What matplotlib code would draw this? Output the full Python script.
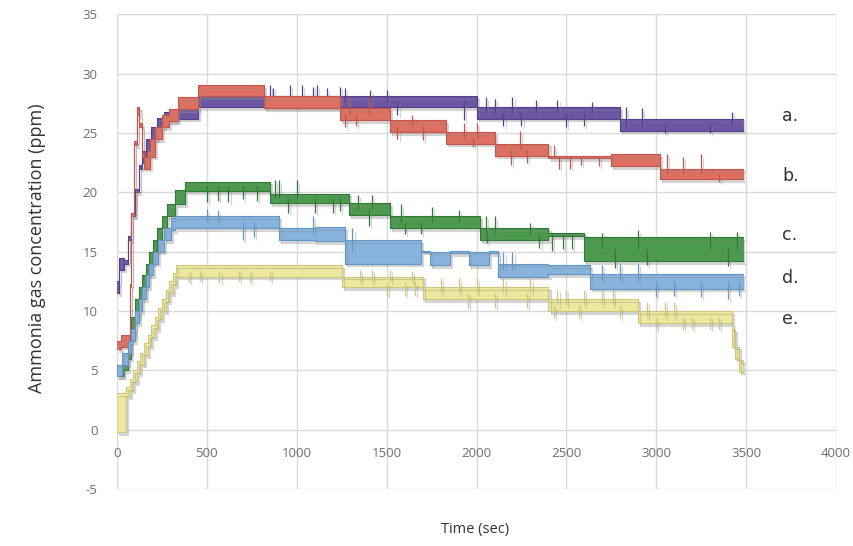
import numpy as np
import matplotlib
matplotlib.use("Agg")
import matplotlib.pyplot as plt
import matplotlib.patheffects as pe

plt.rcParams["axes.unicode_minus"] = False  # el original usa guion simple en "-5"

# --- DATOS (leídos a ojo del gráfico original) ---
# Cada serie: tiempos donde cambia el escalón, nivel bajo y nivel alto de la banda (ppm)
a_t  = [0, 10, 40, 60, 80, 100, 120, 140, 160, 190, 220, 260, 330, 450, 2000, 2800, 3480]
a_lo = [11.5, 13.5, 14, 16, 18, 20, 22, 22.5, 23.5, 24.5, 25.5, 26, 26.2, 27.2, 26.2, 25.2, 25.2]
a_hi = [12.5, 14.5, 14.3, 16.3, 18.3, 20.3, 22.3, 23.5, 24.5, 25.5, 26.3, 26.8, 27.0, 28.1, 27.2, 26.2, 26.2]
# picos sueltos (tiempo, valor al que llega)
a_spk_t = [850, 870, 960, 1030, 1090, 1110, 1170, 1240, 1270, 1410, 1500, 1560, 1930,
           2050, 2100, 2150, 2200, 2250, 2330, 2450, 2500, 2600, 2640, 2830, 2920, 3050, 3300, 3420]
a_spk_v = [29, 28.8, 29, 29, 28.9, 29, 28.8, 28.9, 28.8, 28.6, 28.6, 26.5, 26.1,
           28, 27.9, 25.6, 28, 25.6, 27.8, 27.8, 25.5, 25.6, 27.6, 27.2, 27.1, 25, 25, 26.8]

b_t  = [0, 20, 55, 70, 80, 95, 110, 125, 140, 150, 165, 185, 210, 250, 290, 340, 450, 820,
        1240, 1520, 1830, 2100, 2400, 2750, 3020, 3480]
b_lo = [6.8, 7.0, 7.0, 12, 18, 24, 26.5, 25.5, 23, 22, 22, 23, 24.5, 25.5, 26, 27, 28.1, 27.1,
        26.1, 25.1, 24.1, 23.1, 22.9, 22.2, 21.1, 21.1]
b_hi = [7.5, 8.0, 8.0, 12.3, 18.3, 24.3, 27.2, 25.8, 23.3, 23, 23.5, 24.5, 25.5, 26.5, 27, 28, 29, 28.1,
        27.1, 26.1, 25.1, 24.1, 23.1, 23.2, 22.0, 22.0]
b_spk_t = [1270, 1290, 1330, 1400, 1560, 1640, 1700, 1930, 1980, 2000, 2190, 2240, 2280,
           2430, 2460, 2520, 2580, 2680, 3060, 3150, 3250, 3350]
b_spk_v = [25.5, 28, 25.6, 28, 24.5, 26.5, 24.4, 25.8, 23.8, 25.8, 22.3, 25.2, 22.5,
           24, 22, 22, 22.3, 22.2, 23.2, 23, 23.2, 20.9]

c_t  = [0, 40, 60, 80, 100, 120, 140, 160, 180, 200, 220, 250, 280, 320, 380, 850, 1290,
        1520, 2020, 2400, 2600, 3480]
c_lo = [4.5, 5.0, 6, 8, 9.5, 11, 12, 13, 14, 15, 16, 17, 18, 19, 20.1, 19.1, 18.1,
        17.0, 16.0, 16.3, 14.2, 14.2]
c_hi = [5.5, 6.0, 7.5, 9.5, 11, 12, 13, 14, 15, 16, 17, 18, 19, 20.2, 20.9, 19.9, 19.1,
        18.0, 17.0, 16.6, 16.2, 16.2]
c_spk_t = [500, 560, 620, 700, 780, 880, 900, 950, 1000, 1100, 1200, 1240, 1340, 1400, 1420,
           1580, 1600, 1690, 1750, 1900, 2050, 2060, 2100, 2300, 2350, 2420, 2480, 2530,
           2700, 2770, 2900, 2950, 3300, 3400, 3450]
c_spk_v = [19.2, 19.3, 19.2, 19.4, 19.3, 21, 21, 18.3, 21, 18.3, 18.3, 18.4, 19.8, 17.2, 19.8,
           19, 16.5, 16.5, 18.8, 18.5, 18, 15.7, 18, 17.4, 15.3, 15.1, 15.2, 15.2,
           16.6, 13.6, 16.8, 13.9, 16.7, 13.8, 16.7]

d_t  = [0, 30, 60, 80, 100, 120, 140, 160, 180, 200, 230, 260, 300, 320, 900, 1100, 1270,
        1690, 1740, 1850, 1960, 2070, 2120, 2400, 2630, 3480]
d_lo = [4.5, 5.5, 6.5, 7.5, 9, 10, 11, 12, 13, 14, 15, 16, 16.8, 17.0, 16.0, 15.9, 14.0,
        15.0, 13.9, 14.9, 13.9, 14.9, 12.9, 13.1, 11.9, 11.9]
d_hi = [5.5, 6.5, 7.5, 8.5, 10, 11, 12, 13, 14, 15, 16, 17, 17.8, 18.0, 17.0, 17.1, 16.0,
        15.1, 15.0, 15.1, 15.0, 15.1, 14.0, 13.9, 13.1, 13.1]
d_spk_t = [500, 560, 700, 760, 1090, 1310, 2150, 2200, 2700, 2800, 2900, 3000, 3100, 3250, 3400, 3460]
d_spk_v = [18.6, 18.5, 16.0, 16.2, 18, 17, 15, 15, 13.9, 14, 14, 11.2, 11.3, 11.2, 11.0, 11.3]

e_t  = [0, 50, 70, 90, 110, 130, 150, 170, 190, 210, 230, 250, 270, 290, 310, 330, 1250,
        1700, 2400, 2900, 3420, 3440, 3460, 3480]
e_lo = [-0.2, 2.8, 3.3, 4.0, 4.8, 5.5, 6.3, 7.0, 7.8, 8.5, 9.3, 10.0, 10.8, 11.5, 12.2, 12.9,
        12.0, 11.0, 10.0, 9.0, 7.0, 6.0, 4.9, 4.9]
e_hi = [3.1, 3.6, 4.3, 5.0, 5.8, 6.5, 7.3, 8.0, 8.8, 9.5, 10.3, 11.0, 11.8, 12.5, 13.2, 13.9,
        12.9, 12.0, 11.0, 10.0, 8.5, 7.0, 5.9, 5.9]
e_spk_t = [400, 460, 570, 680, 740, 850, 1350, 1420, 1500, 1520, 1600, 1640, 1660,
           1800, 1900, 1950, 2000, 2100, 2150, 2280, 2300, 2430, 2450, 2500, 2570, 2600, 2700,
           2760, 2800, 2950, 3000, 3050, 3100, 3150, 3200, 3300, 3350]
e_spk_v = [12.4, 12.5, 12.4, 12.5, 12.4, 12.5, 13.5, 13.5, 11.3, 13.5, 11.3, 13.4, 11.3,
           12.8, 12.8, 10.3, 12.8, 10.3, 12.8, 10.3, 12.8, 9.4, 11.8, 11.8, 9.4, 11.8, 11.8,
           11.8, 9.4, 10.8, 8.5, 10.8, 10.8, 8.5, 8.5, 8.5, 8.5]

etiquetas = ["a.", "b.", "c.", "d.", "e."]
etiq_y = [26.4, 21.4, 16.4, 12.8, 9.3]

# --- FIGURA ---
fig, ax = plt.subplots(figsize=(8.54, 5.46), dpi=100)
fig.subplots_adjust(left=0.137, right=0.979, top=0.974, bottom=0.104)

sombra_patch = [pe.SimplePatchShadow(offset=(1.5, -2), shadow_rgbFace="#888888", alpha=0.35), pe.Normal()]
sombra_linea = [pe.SimpleLineShadow(offset=(1.5, -2), shadow_color="#888888", alpha=0.35), pe.Normal()]


def dibujar(t, lo, hi, spk_t, spk_v, cara, borde, z):
    t = np.array(t, dtype=float)
    lo = np.array(lo, dtype=float)
    hi = np.array(hi, dtype=float)
    ax.fill_between(t, lo, hi, step="post", facecolor=cara, edgecolor=borde, lw=0.4,
                    zorder=z, path_effects=sombra_patch)
    ax.step(t, lo, where="post", color=borde, lw=0.8, zorder=z, path_effects=sombra_linea)
    ax.step(t, hi, where="post", color=borde, lw=0.8, zorder=z, path_effects=sombra_linea)
    # los picos salen desde el centro de la banda en ese momento
    idx = np.searchsorted(t, spk_t, side="right") - 1
    base = (lo[idx] + hi[idx]) / 2
    ax.vlines(spk_t, base, spk_v, color=borde, lw=0.9, zorder=z, path_effects=sombra_linea)


dibujar(a_t, a_lo, a_hi, a_spk_t, a_spk_v, "#6c55a3", "#54408c", 3)
dibujar(b_t, b_lo, b_hi, b_spk_t, b_spk_v, "#de7062", "#c5544a", 4)
dibujar(c_t, c_lo, c_hi, c_spk_t, c_spk_v, "#4b9a4d", "#2f7a35", 3)
dibujar(d_t, d_lo, d_hi, d_spk_t, d_spk_v, "#88b3dd", "#6296c8", 4)
dibujar(e_t, e_lo, e_hi, e_spk_t, e_spk_v, "#ece99e", "#cdc57a", 2)

for txt, y in zip(etiquetas, etiq_y):
    ax.text(3700, y, txt, fontsize=12.5, color="#333333", family="DejaVu Sans", va="center")

# --- EJES ---
ax.set_xlim(0, 4000)
ax.set_ylim(-5, 35)
ax.set_xticks(range(0, 4001, 500))
ax.set_yticks(range(-5, 36, 5))
ax.grid(True, color="#d9d9d9", lw=1)
ax.set_axisbelow(True)
for s in ax.spines.values():
    s.set_visible(False)
ax.spines["bottom"].set_position(("data", 0))  # las etiquetas de x van debajo del 0, como en Excel
ax.tick_params(length=0, labelcolor="#6e6e6e", labelsize=9.5)
ax.tick_params(axis="x", pad=12)
ax.tick_params(axis="y", pad=14)
for lbl in ax.get_xticklabels() + ax.get_yticklabels():
    lbl.set_family("Open Sans")

fig.text(0.043, 0.545, "Ammonia gas concentration (ppm)", rotation=90, ha="center", va="center",
         fontsize=13, family="Open Sans", color="#333333")
fig.text(0.556, 0.03, "Time (sec)", ha="center", va="center", fontsize=10.5,
         family="Open Sans", color="#333333")

fig.savefig("out.png", dpi=100)
